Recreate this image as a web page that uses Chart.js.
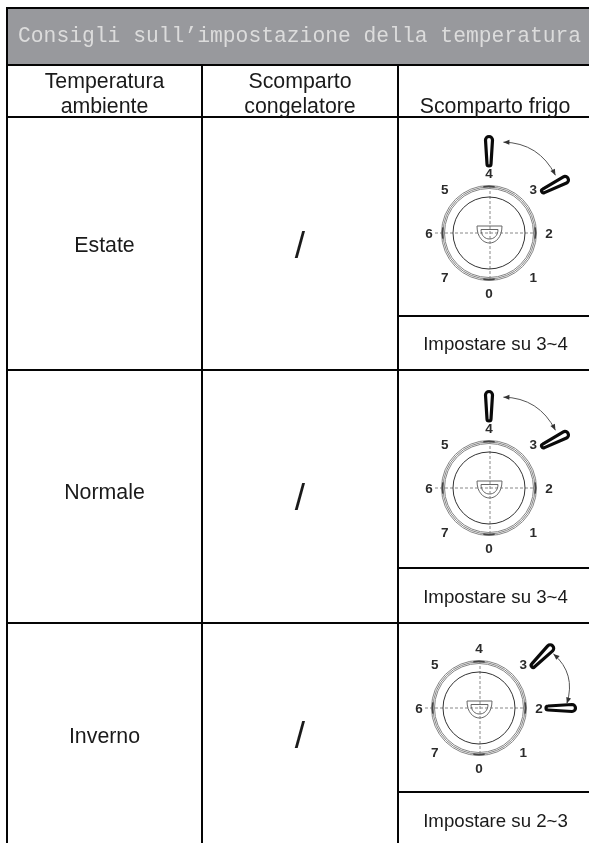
<!DOCTYPE html>
<html lang="it">
<head>
<meta charset="utf-8">
<title>Consigli sull’impostazione della temperatura</title>
<script src="https://cdn.jsdelivr.net/npm/chart.js@4/dist/chart.umd.js"></script>
<style>
html,body{margin:0;padding:0;background:#fff;overflow:hidden}
canvas{display:block;filter:blur(0.3px)}
</style>
</head>
<body>
<canvas id="c" width="589" height="843"></canvas>
<script>
// ---- content ----
const tableTitle = 'Consigli sull’impostazione della temperatura';
const columnHeaders = [['Temperatura', 'ambiente'], ['Scomparto', 'congelatore'], ['Scomparto frigo']];
const ambientConditions = ['Estate', 'Normale', 'Inverno'];
const freezerSettings = ['/', '/', '/'];
const fridgeLow = [3, 3, 2];
const fridgeHigh = [4, 4, 3];
const dialNumbers = [0, 1, 2, 3, 4, 5, 6, 7];

// ---- table geometry (in the chart's own scale units) ----
const columnEdges = [7, 202, 398, 589];
const tableTop = 8, titleBottom = 65, headerBottom = 117, tableBottom = 843;
const rowBottoms = [370, 623];
const dialRowBottoms = [316, 568, 792];
const conditionBaselines = [252, 499, 743];
const slashBaselines = [258, 510, 748];
const noteBaselines = [350, 603, 827];
const dialCentresX = [489, 489, 479];
const dialCentresY = [233, 488, 708];
const lowHandleTilt = [-18, -18, 0];   // printed handle of the lower setting leans by this much
const arcEndShift = [-4, -4, 3];       // where the double arrow stops, relative to the lower setting

const BLACK = '#050505', INK = '#1a1a1a', RING = '#858585', DIAL_INK = '#2b2b2b';

const rule = pts => ({type: 'scatter', showLine: true, data: pts, borderColor: BLACK, borderWidth: 2,
  pointRadius: 0, tension: 0, order: 1});

const hLines = [tableTop, titleBottom, headerBottom, ...rowBottoms]
  .map(y => rule([{x: columnEdges[0] - 1, y}, {x: columnEdges[3], y}]));
const hLinesFridge = dialRowBottoms
  .map(y => rule([{x: columnEdges[2], y}, {x: columnEdges[3], y}]));
const vLines = [
  rule([{x: columnEdges[0], y: tableTop}, {x: columnEdges[0], y: tableBottom}]),
  rule([{x: columnEdges[1], y: titleBottom}, {x: columnEdges[1], y: tableBottom}]),
  rule([{x: columnEdges[2], y: titleBottom}, {x: columnEdges[2], y: tableBottom}])
];

// rings of each dial, as circular points at the dial centre
const ringRadii = [47.5, 46, 44.5];
const ringPoints = [], ringSizes = [];
dialCentresX.forEach((x, i) => ringRadii.forEach(r => {
  ringPoints.push({x, y: dialCentresY[i]}); ringSizes.push(r);
}));
const innerPoints = dialCentresX.map((x, i) => ({x, y: dialCentresY[i]}));

// dashed crosshair of each dial
const crossDatasets = [];
dialCentresX.forEach((x, i) => {
  const y = dialCentresY[i];
  const style = {type: 'scatter', showLine: true, borderColor: '#888', borderWidth: 1,
    borderDash: [3, 2], pointRadius: 0, order: 3};
  crossDatasets.push({...style, data: [{x: x - 54, y}, {x: x + 47, y}]});
  crossDatasets.push({...style, data: [{x: x + 1, y: y - 47}, {x: x + 1, y: y + 47}]});
});

const rad = d => d * Math.PI / 180;
const settingAngle = s => (s - 2) * 45;            // 2 points right, 4 up, 0 down

const tablePlugin = {
  id: 'tablePlugin',
  beforeDatasetsDraw(chart) {
    const {ctx, scales: {x: sx, y: sy}} = chart;
    ctx.save();
    ctx.fillStyle = '#98999d';
    ctx.fillRect(sx.getPixelForValue(columnEdges[0]), sy.getPixelForValue(tableTop),
      sx.getPixelForValue(columnEdges[3]) - sx.getPixelForValue(columnEdges[0]),
      sy.getPixelForValue(titleBottom) - sy.getPixelForValue(tableTop));
    ctx.restore();
  },
  afterDatasetsDraw(chart) {
    const {ctx, scales: {x: sx, y: sy}} = chart;
    const X = v => sx.getPixelForValue(v), Y = v => sy.getPixelForValue(v);
    const sans = px => `${px}px "Liberation Sans", Arial, sans-serif`;
    ctx.save();
    ctx.textBaseline = 'alphabetic';

    // title
    ctx.font = '21.33px "Liberation Mono", "Courier New", monospace';
    ctx.fillStyle = '#dcdcdc';
    ctx.textAlign = 'left';
    ctx.fillText(tableTitle, X(18), Y(42));

    // headers
    ctx.fillStyle = INK;
    ctx.textAlign = 'center';
    ctx.font = sans(21.33);
    const midCols = [104.5, 300, 495];
    columnHeaders.forEach((lines, c) => {
      lines.forEach((t, i) => {
        const base = lines.length === 1 ? 113 : 88 + i * 24.5;
        ctx.fillText(t, X(midCols[c]), Y(base));
      });
    });

    // rows
    ambientConditions.forEach((t, r) => {
      ctx.font = sans(21.33);
      ctx.fillStyle = INK;
      ctx.fillText(t, X(midCols[0]), Y(conditionBaselines[r]));
      ctx.font = sans(37);
      ctx.fillText(freezerSettings[r], X(midCols[1]), Y(slashBaselines[r]));
      ctx.font = sans(18.67);
      ctx.fillText(`Impostare su ${fridgeLow[r]}~${fridgeHigh[r]}`, X(495.5), Y(noteBaselines[r]));
      drawDial(ctx, X(dialCentresX[r]), Y(dialCentresY[r]), fridgeLow[r], fridgeHigh[r], lowHandleTilt[r], arcEndShift[r]);
    });
    ctx.restore();
  }
};

function drawHandle(ctx, cx, cy, setting, tilt) {
  const a = settingAngle(setting);
  const baseA = rad(setting % 2 ? a - 7 : a);
  const bx = cx + 67 * Math.cos(baseA), by = cy - 67 * Math.sin(baseA);
  ctx.save();
  ctx.translate(bx, by);
  ctx.rotate(-rad(a + tilt));
  ctx.beginPath();
  ctx.moveTo(2, -2);
  ctx.lineTo(26, -3.5);
  ctx.arc(26, 0, 3.5, -Math.PI / 2, Math.PI / 2);
  ctx.lineTo(2, 2);
  ctx.arc(2, 0, 2, Math.PI / 2, -Math.PI / 2);
  ctx.closePath();
  ctx.fillStyle = '#fff';
  ctx.fill();
  ctx.lineWidth = 3.2;
  ctx.strokeStyle = '#0a0a0a';
  ctx.lineJoin = 'round';
  ctx.stroke();
  ctx.restore();
}

function arrowHead(ctx, x, y, fromX, fromY) {
  ctx.save();
  ctx.translate(x, y);
  ctx.rotate(Math.atan2(y - fromY, x - fromX));
  ctx.beginPath();
  ctx.moveTo(0, 0);
  ctx.lineTo(-6, -2.5);
  ctx.lineTo(-6, 2.5);
  ctx.closePath();
  ctx.fillStyle = '#333';
  ctx.fill();
  ctx.restore();
}

function drawDial(ctx, cx, cy, low, high, tilt, endShift) {
  // darker cardinal marks on the ring
  ctx.strokeStyle = '#444';
  ctx.lineWidth = 1.5;
  [0, 90, 180, 270].forEach(d => {
    ctx.beginPath();
    ctx.arc(cx, cy, 46.5, rad(d - 7), rad(d + 7));
    ctx.stroke();
  });

  // knob
  ctx.strokeStyle = '#666';
  ctx.lineWidth = 1;
  [[12, -7, 10], [8, -3.5, 6]].forEach(([w, top, bottom]) => {
    const ctrl = top + (bottom - top) * 4 / 3;
    ctx.beginPath();
    ctx.moveTo(cx - w, cy + top);
    ctx.lineTo(cx + w + 1, cy + top);
    ctx.bezierCurveTo(cx + w + 1, cy + ctrl, cx - w, cy + ctrl, cx - w, cy + top);
    ctx.stroke();
  });

  // numbers
  ctx.font = 'bold 13.5px "Liberation Sans", Arial, sans-serif';
  ctx.fillStyle = DIAL_INK;
  ctx.textAlign = 'center';
  ctx.textBaseline = 'middle';
  dialNumbers.forEach(n => {
    const a = rad(settingAngle(n));
    const r = n % 2 ? 62.5 : 60;
    ctx.fillText(String(n), cx + r * Math.cos(a), cy - r * Math.sin(a) + 1);
  });
  ctx.textBaseline = 'alphabetic';

  // handles
  drawHandle(ctx, cx, cy, high, 0);
  drawHandle(ctx, cx, cy, low, tilt);

  // double-headed curved arrow between the two settings
  const A = rad(settingAngle(high) - 9), B = rad(settingAngle(low) + endShift), M = (A + B) / 2;
  const p0 = [cx + 92 * Math.cos(A), cy - 92 * Math.sin(A)];
  const p1 = [cx + 88 * Math.cos(B), cy - 88 * Math.sin(B)];
  const c = [cx + 103 * Math.cos(M), cy - 103 * Math.sin(M)];
  ctx.strokeStyle = '#555';
  ctx.lineWidth = 1;
  ctx.beginPath();
  ctx.moveTo(p0[0], p0[1]);
  ctx.quadraticCurveTo(c[0], c[1], p1[0], p1[1]);
  ctx.stroke();
  arrowHead(ctx, p0[0], p0[1], c[0], c[1]);
  arrowHead(ctx, p1[0], p1[1], c[0], c[1]);
}

new Chart(document.getElementById('c'), {
  type: 'scatter',
  data: {
    datasets: [
      ...hLines, ...hLinesFridge, ...vLines, ...crossDatasets,
      {data: ringPoints, pointRadius: ringSizes, pointHoverRadius: ringSizes,
        pointBackgroundColor: 'transparent', pointBorderColor: RING, pointBorderWidth: 1, showLine: false, order: 4},
      {data: innerPoints, pointRadius: 36, pointHoverRadius: 36,
        pointBackgroundColor: 'transparent', pointBorderColor: '#333', pointBorderWidth: 1, showLine: false, order: 2}
    ]
  },
  options: {
    responsive: false,
    animation: false,
    events: [],
    layout: {autoPadding: false, padding: 0},
    clip: false,
    plugins: {legend: {display: false}, tooltip: {enabled: false}, title: {display: false}},
    scales: {
      x: {type: 'linear', min: 0, max: 589, display: false},
      y: {type: 'linear', min: 0, max: 843, reverse: true, display: false}
    }
  },
  plugins: [tablePlugin]
});
</script>
</body>
</html>
